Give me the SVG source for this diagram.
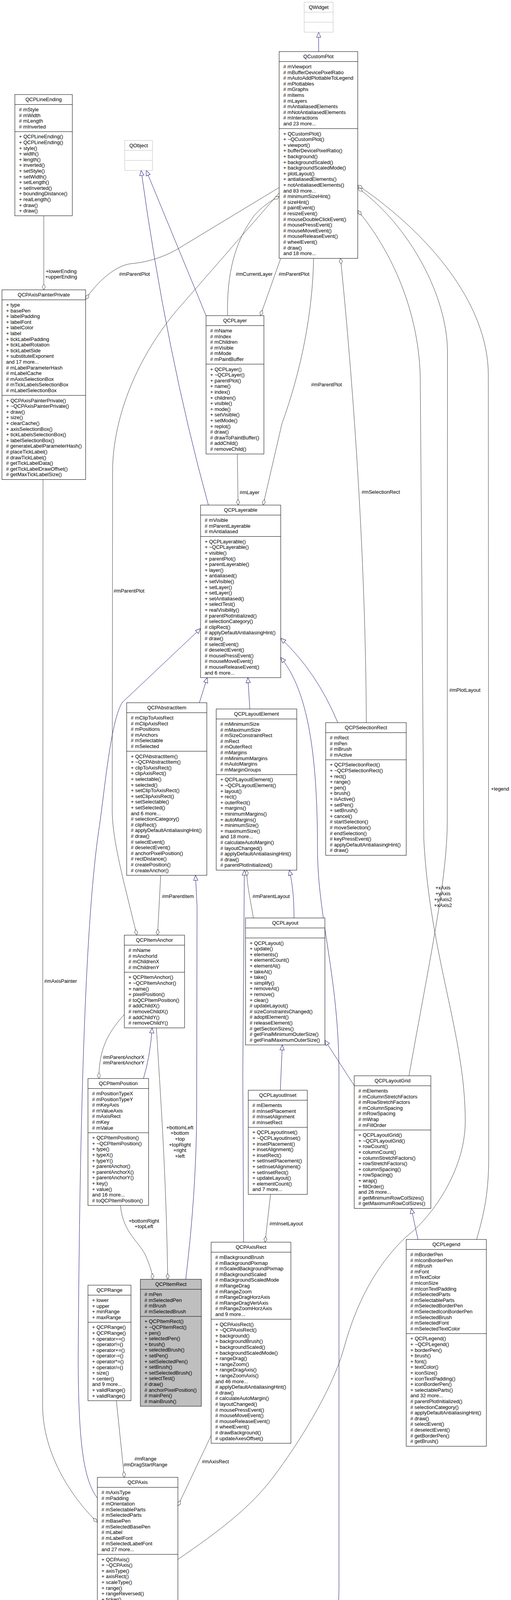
<svg xmlns="http://www.w3.org/2000/svg" width="1307" height="4811" viewBox="0 0 1307 4811">
<style>
text{font-family:"Liberation Sans",Arial,Helvetica,sans-serif;font-size:13px;fill:#000}
.c{text-anchor:middle}
.box{fill:#fff;stroke:#000;stroke-width:1}
.ext{fill:#fff;stroke:#bfbfbf;stroke-width:1}
.hl{fill:#bfbfbf;stroke:#000;stroke-width:1}
.sep{fill:none;stroke:#000;stroke-width:1}
.sepx{fill:none;stroke:#bfbfbf;stroke-width:1}
.inh{fill:none;stroke:#191970;stroke-width:1;marker-end:url(#tri)}
.use{fill:none;stroke:#404040;stroke-width:1;marker-end:url(#dia)}
</style>
<defs>
<marker id="tri" markerUnits="userSpaceOnUse" viewBox="-1 -1 15 13" refX="13" refY="5.5" markerWidth="15" markerHeight="13" orient="auto"><path d="M0,0 L13,5.5 L0,11 Z" fill="#fff" stroke="#191970"/></marker>
<marker id="dia" markerUnits="userSpaceOnUse" viewBox="-1 -1 17 10" refX="15" refY="4" markerWidth="17" markerHeight="10" orient="auto"><path d="M0,4 L7.5,0 L15,4 L7.5,8 Z" fill="#fff" stroke="#404040"/></marker>
</defs>
<rect width="1307" height="4811" fill="#fff"/>

<g id="connectors">
<path class="inh" d="M815,132 L815,82.4"/>
<path class="inh" d="M527,808 L374,436.3"/>
<path class="inh" d="M533,1293 Q425,900 361,436.3"/>
<path class="inh" d="M510,1799 L530,1734.8"/>
<path class="inh" d="M639,1815 L634,1734.8"/>
<path class="inh" d="M864,1850 Q810,1720 718,1634"/>
<path class="inh" d="M572,4537 C760,4430 867,4300 867,4063 L867,2750 C867,2500 812,2350 812,2170 C812,1900 780,1760 718,1683"/>
<path class="inh" d="M249,3835 C215,3790 200,3700 200,3470 C205,2700 225,2300 255,2110 C270,2000 285,1840 313,1798 L513,1609"/>
<path class="inh" d="M475,3275 C490,3150 503,3000 503,2833 L504,2320 L500,2240.8"/>
<path class="inh" d="M367,2761 Q385,2700 389,2631.4"/>
<path class="inh" d="M752,2350 C752,2300 748,2260 740,2227.6"/>
<path class="inh" d="M623,3180 L621,2750 L625,2227.6"/>
<path class="inh" d="M906,2779 L831,2663"/>
<path class="inh" d="M717,2791 L722,2675"/>
<path class="inh" d="M1069,3173 L1052,3093.6"/>

<path class="use" d="M112,552.4 L112,742"/>
<path class="use" d="M714,480 L450,640 C410,662 370,672 335,675 C295,680 250,720 219,766"/>
<path class="use" d="M714,494 L450,797 C340,930 290,1080 288,1200 L287,2073 C287,2150 315,2250 350,2394"/>
<path class="use" d="M582,808 C580,700 600,620 650,552 C670,530 690,515 714,503"/>
<path class="use" d="M718,661.4 L666,808"/>
<path class="use" d="M802,661.4 C800,800 770,950 721,1085 L673,1293"/>
<path class="use" d="M607,1162.2 L609,1293"/>
<path class="use" d="M937,1850 C935,1400 900,950 871,661.4"/>
<path class="use" d="M1219,3173 C1240,3100 1250,3050 1250,2960 L1249,960 C1249,780 1100,600 915,474"/>
<path class="use" d="M1046,2754 C1100,2450 1144,2250 1144,2100 L1144.5,900 C1144,760 1050,580 915,481"/>
<path class="use" d="M455,3992 C560,3920 640,3860 700,3780 C760,3700 850,3560 880,3450 C910,3340 960,3240 1040,3165 C1100,3120 1190,3000 1190,2870 C1190,2650 1100,2450 1084,2150 L1075,980 C1075,800 1000,640 915,539"/>
<path class="use" d="M110,1227.6 L109,3600 C110,3720 180,3830 249,3897"/>
<path class="use" d="M411,2240.8 L403,2394"/>
<path class="use" d="M318,2597 C280,2640 253,2680 253,2761"/>
<path class="use" d="M400,2631.4 C410,2800 425,3000 429,3275"/>
<path class="use" d="M308,3086 C315,3160 360,3180 375,3220 C385,3245 390,3260 390,3275"/>
<path class="use" d="M648,2350 C640,2300 632,2270 631,2227.6"/>
<path class="use" d="M692,3057.6 L678,3180"/>
<path class="use" d="M540,3675 L455,3855"/>
<path class="use" d="M297.6,3585.8 L318,3782"/>
<path class="use" d="M340,4355.2 C343,4400 355,4425 367,4442"/>
<path class="use" d="M447,4421 L436,4355.2"/>

<g class="c">
<text class="c" x="156.5" y="698.6">+lowerEnding</text>
<text class="c" x="156.5" y="712.6">+upperEnding</text>
<text class="c" x="344" y="705.6">#mParentPlot</text>
<text class="c" x="330" y="1516.6">#mParentPlot</text>
<text class="c" x="650" y="705.6">#mCurrentLayer</text>
<text class="c" x="752" y="705.6">#mParentPlot</text>
<text class="c" x="835" y="988.6">#mParentPlot</text>
<text class="c" x="638" y="1264.6">#mLayer</text>
<text class="c" x="974" y="1263.6">#mSelectionRect</text>
<text class="c" x="1279" y="2023.6">+legend</text>
<text class="c" x="1189" y="1770.6">#mPlotLayout</text>
<text class="c" x="1133" y="2276.6">+xAxis</text>
<text class="c" x="1133" y="2291.6">+yAxis</text>
<text class="c" x="1133" y="2306.6">+yAxis2</text>
<text class="c" x="1133" y="2321.6">+xAxis2</text>
<text class="c" x="155" y="2515.6">#mAxisPainter</text>
<text class="c" x="455" y="2298.6">#mParentItem</text>
<text class="c" x="316" y="2710.6">#mParentAnchorX</text>
<text class="c" x="316" y="2724.6">#mParentAnchorY</text>
<text class="c" x="460" y="2890.6">+bottomLeft</text>
<text class="c" x="460" y="2905.3">+bottom</text>
<text class="c" x="460" y="2920">+top</text>
<text class="c" x="460" y="2934.7">+topRight</text>
<text class="c" x="460" y="2949.4">+right</text>
<text class="c" x="460" y="2964.1">+left</text>
<text class="c" x="368" y="3129.6">+bottomRight</text>
<text class="c" x="368" y="3143.6">+topLeft</text>
<text class="c" x="693.5" y="2298.6">#mParentLayout</text>
<text class="c" x="732" y="3136.6">#mInsetLayout</text>
<text class="c" x="551" y="3745.6">#mAxisRect</text>
<text class="c" x="372" y="3738.6">#mRange</text>
<text class="c" x="372" y="3753.6">#mDragStartRange</text>
<text class="c" x="392" y="4391.6">#mParentAxis</text>
<text class="c" x="467" y="4391.6">#mGrid</text>
</g>
</g>

<g id="QWidget" transform="translate(778,5.6)">
<rect class="ext" width="74" height="76.8"/>
<path class="sepx" d="M0,25.6H74M0,51.2H74"/>
<text class="c" x="37" y="17.4">QWidget</text>
</g>

<g id="QObject" transform="translate(319,359.5)">
<rect class="ext" width="71" height="76.8"/>
<path class="sepx" d="M0,25.6H71M0,51.2H71"/>
<text class="c" x="35.5" y="17.4">QObject</text>
</g>

<g id="QCustomPlot" transform="translate(714,132)">
<rect class="box" width="201" height="529.4"/>
<path class="sep" d="M0,25.6H201M0,197.2H201"/>
<text class="c" x="100.5" y="17.4">QCustomPlot</text>
<text x="10.5" y="43"><tspan x="10.5" dy="0"># mViewport</tspan><tspan x="10.5" dy="14.6"># mBufferDevicePixelRatio</tspan><tspan x="10.5" dy="14.6"># mAutoAddPlottableToLegend</tspan><tspan x="10.5" dy="14.6"># mPlottables</tspan><tspan x="10.5" dy="14.6"># mGraphs</tspan><tspan x="10.5" dy="14.6"># mItems</tspan><tspan x="10.5" dy="14.6"># mLayers</tspan><tspan x="10.5" dy="14.6"># mAntialiasedElements</tspan><tspan x="10.5" dy="14.6"># mNotAntialiasedElements</tspan><tspan x="10.5" dy="14.6"># mInteractions</tspan><tspan x="10.5" dy="14.6">and 23 more...</tspan></text>
<text x="10.5" y="214.6"><tspan x="10.5" dy="0">+ QCustomPlot()</tspan><tspan x="10.5" dy="14.6">+ ~QCustomPlot()</tspan><tspan x="10.5" dy="14.6">+ viewport()</tspan><tspan x="10.5" dy="14.6">+ bufferDevicePixelRatio()</tspan><tspan x="10.5" dy="14.6">+ background()</tspan><tspan x="10.5" dy="14.6">+ backgroundScaled()</tspan><tspan x="10.5" dy="14.6">+ backgroundScaledMode()</tspan><tspan x="10.5" dy="14.6">+ plotLayout()</tspan><tspan x="10.5" dy="14.6">+ antialiasedElements()</tspan><tspan x="10.5" dy="14.6">+ notAntialiasedElements()</tspan><tspan x="10.5" dy="14.6">and 83 more...</tspan><tspan x="10.5" dy="14.6"># minimumSizeHint()</tspan><tspan x="10.5" dy="14.6"># sizeHint()</tspan><tspan x="10.5" dy="14.6"># paintEvent()</tspan><tspan x="10.5" dy="14.6"># resizeEvent()</tspan><tspan x="10.5" dy="14.6"># mouseDoubleClickEvent()</tspan><tspan x="10.5" dy="14.6"># mousePressEvent()</tspan><tspan x="10.5" dy="14.6"># mouseMoveEvent()</tspan><tspan x="10.5" dy="14.6"># mouseReleaseEvent()</tspan><tspan x="10.5" dy="14.6"># wheelEvent()</tspan><tspan x="10.5" dy="14.6"># draw()</tspan><tspan x="10.5" dy="14.6">and 18 more...</tspan></text>
</g>

<g id="QCPLineEnding" transform="translate(38,242)">
<rect class="box" width="147" height="310.4"/>
<path class="sep" d="M0,25.6H147M0,95H147"/>
<text class="c" x="73.5" y="17.4">QCPLineEnding</text>
<text x="10.5" y="43"><tspan x="10.5" dy="0"># mStyle</tspan><tspan x="10.5" dy="14.6"># mWidth</tspan><tspan x="10.5" dy="14.6"># mLength</tspan><tspan x="10.5" dy="14.6"># mInverted</tspan></text>
<text x="10.5" y="112.4"><tspan x="10.5" dy="0">+ QCPLineEnding()</tspan><tspan x="10.5" dy="14.6">+ QCPLineEnding()</tspan><tspan x="10.5" dy="14.6">+ style()</tspan><tspan x="10.5" dy="14.6">+ width()</tspan><tspan x="10.5" dy="14.6">+ length()</tspan><tspan x="10.5" dy="14.6">+ inverted()</tspan><tspan x="10.5" dy="14.6">+ setStyle()</tspan><tspan x="10.5" dy="14.6">+ setWidth()</tspan><tspan x="10.5" dy="14.6">+ setLength()</tspan><tspan x="10.5" dy="14.6">+ setInverted()</tspan><tspan x="10.5" dy="14.6">+ boundingDistance()</tspan><tspan x="10.5" dy="14.6">+ realLength()</tspan><tspan x="10.5" dy="14.6">+ draw()</tspan><tspan x="10.5" dy="14.6">+ draw()</tspan></text>
</g>

<g id="QCPAxisPainterPrivate" transform="translate(5,742)">
<rect class="box" width="214" height="485.6"/>
<path class="sep" d="M0,25.6H214M0,270.2H214"/>
<text class="c" x="107" y="17.4">QCPAxisPainterPrivate</text>
<text x="10.5" y="43"><tspan x="10.5" dy="0">+ type</tspan><tspan x="10.5" dy="14.6">+ basePen</tspan><tspan x="10.5" dy="14.6">+ labelPadding</tspan><tspan x="10.5" dy="14.6">+ labelFont</tspan><tspan x="10.5" dy="14.6">+ labelColor</tspan><tspan x="10.5" dy="14.6">+ label</tspan><tspan x="10.5" dy="14.6">+ tickLabelPadding</tspan><tspan x="10.5" dy="14.6">+ tickLabelRotation</tspan><tspan x="10.5" dy="14.6">+ tickLabelSide</tspan><tspan x="10.5" dy="14.6">+ substituteExponent</tspan><tspan x="10.5" dy="14.6">and 17 more...</tspan><tspan x="10.5" dy="14.6"># mLabelParameterHash</tspan><tspan x="10.5" dy="14.6"># mLabelCache</tspan><tspan x="10.5" dy="14.6"># mAxisSelectionBox</tspan><tspan x="10.5" dy="14.6"># mTickLabelsSelectionBox</tspan><tspan x="10.5" dy="14.6"># mLabelSelectionBox</tspan></text>
<text x="10.5" y="287.6"><tspan x="10.5" dy="0">+ QCPAxisPainterPrivate()</tspan><tspan x="10.5" dy="14.6">+ ~QCPAxisPainterPrivate()</tspan><tspan x="10.5" dy="14.6">+ draw()</tspan><tspan x="10.5" dy="14.6">+ size()</tspan><tspan x="10.5" dy="14.6">+ clearCache()</tspan><tspan x="10.5" dy="14.6">+ axisSelectionBox()</tspan><tspan x="10.5" dy="14.6">+ tickLabelsSelectionBox()</tspan><tspan x="10.5" dy="14.6">+ labelSelectionBox()</tspan><tspan x="10.5" dy="14.6"># generateLabelParameterHash()</tspan><tspan x="10.5" dy="14.6"># placeTickLabel()</tspan><tspan x="10.5" dy="14.6"># drawTickLabel()</tspan><tspan x="10.5" dy="14.6"># getTickLabelData()</tspan><tspan x="10.5" dy="14.6"># getTickLabelDrawOffset()</tspan><tspan x="10.5" dy="14.6"># getMaxTickLabelSize()</tspan></text>
</g>

<g id="QCPLayer" transform="translate(527,808)">
<rect class="box" width="148" height="354.2"/>
<path class="sep" d="M0,25.6H148M0,124.2H148"/>
<text class="c" x="74" y="17.4">QCPLayer</text>
<text x="10.5" y="43"><tspan x="10.5" dy="0"># mName</tspan><tspan x="10.5" dy="14.6"># mIndex</tspan><tspan x="10.5" dy="14.6"># mChildren</tspan><tspan x="10.5" dy="14.6"># mVisible</tspan><tspan x="10.5" dy="14.6"># mMode</tspan><tspan x="10.5" dy="14.6"># mPaintBuffer</tspan></text>
<text x="10.5" y="141.6"><tspan x="10.5" dy="0">+ QCPLayer()</tspan><tspan x="10.5" dy="14.6">+ ~QCPLayer()</tspan><tspan x="10.5" dy="14.6">+ parentPlot()</tspan><tspan x="10.5" dy="14.6">+ name()</tspan><tspan x="10.5" dy="14.6">+ index()</tspan><tspan x="10.5" dy="14.6">+ children()</tspan><tspan x="10.5" dy="14.6">+ visible()</tspan><tspan x="10.5" dy="14.6">+ mode()</tspan><tspan x="10.5" dy="14.6">+ setVisible()</tspan><tspan x="10.5" dy="14.6">+ setMode()</tspan><tspan x="10.5" dy="14.6">+ replot()</tspan><tspan x="10.5" dy="14.6"># draw()</tspan><tspan x="10.5" dy="14.6"># drawToPaintBuffer()</tspan><tspan x="10.5" dy="14.6"># addChild()</tspan><tspan x="10.5" dy="14.6"># removeChild()</tspan></text>
</g>

<g id="QCPLayerable" transform="translate(513,1293)">
<rect class="box" width="205" height="441.8"/>
<path class="sep" d="M0,25.6H205M0,80.4H205"/>
<text class="c" x="102.5" y="17.4">QCPLayerable</text>
<text x="10.5" y="43"><tspan x="10.5" dy="0"># mVisible</tspan><tspan x="10.5" dy="14.6"># mParentLayerable</tspan><tspan x="10.5" dy="14.6"># mAntialiased</tspan></text>
<text x="10.5" y="97.8"><tspan x="10.5" dy="0">+ QCPLayerable()</tspan><tspan x="10.5" dy="14.6">+ ~QCPLayerable()</tspan><tspan x="10.5" dy="14.6">+ visible()</tspan><tspan x="10.5" dy="14.6">+ parentPlot()</tspan><tspan x="10.5" dy="14.6">+ parentLayerable()</tspan><tspan x="10.5" dy="14.6">+ layer()</tspan><tspan x="10.5" dy="14.6">+ antialiased()</tspan><tspan x="10.5" dy="14.6">+ setVisible()</tspan><tspan x="10.5" dy="14.6">+ setLayer()</tspan><tspan x="10.5" dy="14.6">+ setLayer()</tspan><tspan x="10.5" dy="14.6">+ setAntialiased()</tspan><tspan x="10.5" dy="14.6">+ selectTest()</tspan><tspan x="10.5" dy="14.6">+ realVisibility()</tspan><tspan x="10.5" dy="14.6"># parentPlotInitialized()</tspan><tspan x="10.5" dy="14.6"># selectionCategory()</tspan><tspan x="10.5" dy="14.6"># clipRect()</tspan><tspan x="10.5" dy="14.6"># applyDefaultAntialiasingHint()</tspan><tspan x="10.5" dy="14.6"># draw()</tspan><tspan x="10.5" dy="14.6"># selectEvent()</tspan><tspan x="10.5" dy="14.6"># deselectEvent()</tspan><tspan x="10.5" dy="14.6"># mousePressEvent()</tspan><tspan x="10.5" dy="14.6"># mouseMoveEvent()</tspan><tspan x="10.5" dy="14.6"># mouseReleaseEvent()</tspan><tspan x="10.5" dy="14.6">and 6 more...</tspan></text>
</g>

<g id="QCPAbstractItem" transform="translate(324,1799)">
<rect class="box" width="205" height="441.8"/>
<path class="sep" d="M0,25.6H205M0,124.2H205"/>
<text class="c" x="102.5" y="17.4">QCPAbstractItem</text>
<text x="10.5" y="43"><tspan x="10.5" dy="0"># mClipToAxisRect</tspan><tspan x="10.5" dy="14.6"># mClipAxisRect</tspan><tspan x="10.5" dy="14.6"># mPositions</tspan><tspan x="10.5" dy="14.6"># mAnchors</tspan><tspan x="10.5" dy="14.6"># mSelectable</tspan><tspan x="10.5" dy="14.6"># mSelected</tspan></text>
<text x="10.5" y="141.6"><tspan x="10.5" dy="0">+ QCPAbstractItem()</tspan><tspan x="10.5" dy="14.6">+ ~QCPAbstractItem()</tspan><tspan x="10.5" dy="14.6">+ clipToAxisRect()</tspan><tspan x="10.5" dy="14.6">+ clipAxisRect()</tspan><tspan x="10.5" dy="14.6">+ selectable()</tspan><tspan x="10.5" dy="14.6">+ selected()</tspan><tspan x="10.5" dy="14.6">+ setClipToAxisRect()</tspan><tspan x="10.5" dy="14.6">+ setClipAxisRect()</tspan><tspan x="10.5" dy="14.6">+ setSelectable()</tspan><tspan x="10.5" dy="14.6">+ setSelected()</tspan><tspan x="10.5" dy="14.6">and 6 more...</tspan><tspan x="10.5" dy="14.6"># selectionCategory()</tspan><tspan x="10.5" dy="14.6"># clipRect()</tspan><tspan x="10.5" dy="14.6"># applyDefaultAntialiasingHint()</tspan><tspan x="10.5" dy="14.6"># draw()</tspan><tspan x="10.5" dy="14.6"># selectEvent()</tspan><tspan x="10.5" dy="14.6"># deselectEvent()</tspan><tspan x="10.5" dy="14.6"># anchorPixelPosition()</tspan><tspan x="10.5" dy="14.6"># rectDistance()</tspan><tspan x="10.5" dy="14.6"># createPosition()</tspan><tspan x="10.5" dy="14.6"># createAnchor()</tspan></text>
</g>

<g id="QCPLayoutElement" transform="translate(553,1815)">
<rect class="box" width="206" height="412.6"/>
<path class="sep" d="M0,25.6H206M0,168H206"/>
<text class="c" x="103" y="17.4">QCPLayoutElement</text>
<text x="10.5" y="43"><tspan x="10.5" dy="0"># mMinimumSize</tspan><tspan x="10.5" dy="14.6"># mMaximumSize</tspan><tspan x="10.5" dy="14.6"># mSizeConstraintRect</tspan><tspan x="10.5" dy="14.6"># mRect</tspan><tspan x="10.5" dy="14.6"># mOuterRect</tspan><tspan x="10.5" dy="14.6"># mMargins</tspan><tspan x="10.5" dy="14.6"># mMinimumMargins</tspan><tspan x="10.5" dy="14.6"># mAutoMargins</tspan><tspan x="10.5" dy="14.6"># mMarginGroups</tspan></text>
<text x="10.5" y="185.4"><tspan x="10.5" dy="0">+ QCPLayoutElement()</tspan><tspan x="10.5" dy="14.6">+ ~QCPLayoutElement()</tspan><tspan x="10.5" dy="14.6">+ layout()</tspan><tspan x="10.5" dy="14.6">+ rect()</tspan><tspan x="10.5" dy="14.6">+ outerRect()</tspan><tspan x="10.5" dy="14.6">+ margins()</tspan><tspan x="10.5" dy="14.6">+ minimumMargins()</tspan><tspan x="10.5" dy="14.6">+ autoMargins()</tspan><tspan x="10.5" dy="14.6">+ minimumSize()</tspan><tspan x="10.5" dy="14.6">+ maximumSize()</tspan><tspan x="10.5" dy="14.6">and 18 more...</tspan><tspan x="10.5" dy="14.6"># calculateAutoMargin()</tspan><tspan x="10.5" dy="14.6"># layoutChanged()</tspan><tspan x="10.5" dy="14.6"># applyDefaultAntialiasingHint()</tspan><tspan x="10.5" dy="14.6"># draw()</tspan><tspan x="10.5" dy="14.6"># parentPlotInitialized()</tspan></text>
</g>

<g id="QCPSelectionRect" transform="translate(833,1850)">
<rect class="box" width="206" height="339.6"/>
<path class="sep" d="M0,25.6H206M0,95H206"/>
<text class="c" x="103" y="17.4">QCPSelectionRect</text>
<text x="10.5" y="43"><tspan x="10.5" dy="0"># mRect</tspan><tspan x="10.5" dy="14.6"># mPen</tspan><tspan x="10.5" dy="14.6"># mBrush</tspan><tspan x="10.5" dy="14.6"># mActive</tspan></text>
<text x="10.5" y="112.4"><tspan x="10.5" dy="0">+ QCPSelectionRect()</tspan><tspan x="10.5" dy="14.6">+ ~QCPSelectionRect()</tspan><tspan x="10.5" dy="14.6">+ rect()</tspan><tspan x="10.5" dy="14.6">+ range()</tspan><tspan x="10.5" dy="14.6">+ pen()</tspan><tspan x="10.5" dy="14.6">+ brush()</tspan><tspan x="10.5" dy="14.6">+ isActive()</tspan><tspan x="10.5" dy="14.6">+ setPen()</tspan><tspan x="10.5" dy="14.6">+ setBrush()</tspan><tspan x="10.5" dy="14.6">+ cancel()</tspan><tspan x="10.5" dy="14.6"># startSelection()</tspan><tspan x="10.5" dy="14.6"># moveSelection()</tspan><tspan x="10.5" dy="14.6"># endSelection()</tspan><tspan x="10.5" dy="14.6"># keyPressEvent()</tspan><tspan x="10.5" dy="14.6"># applyDefaultAntialiasingHint()</tspan><tspan x="10.5" dy="14.6"># draw()</tspan></text>
</g>

<g id="QCPItemAnchor" transform="translate(318,2394)">
<rect class="box" width="154" height="237.4"/>
<path class="sep" d="M0,25.6H154M0,95H154"/>
<text class="c" x="77" y="17.4">QCPItemAnchor</text>
<text x="10.5" y="43"><tspan x="10.5" dy="0"># mName</tspan><tspan x="10.5" dy="14.6"># mAnchorId</tspan><tspan x="10.5" dy="14.6"># mChildrenX</tspan><tspan x="10.5" dy="14.6"># mChildrenY</tspan></text>
<text x="10.5" y="112.4"><tspan x="10.5" dy="0">+ QCPItemAnchor()</tspan><tspan x="10.5" dy="14.6">+ ~QCPItemAnchor()</tspan><tspan x="10.5" dy="14.6">+ name()</tspan><tspan x="10.5" dy="14.6">+ pixelPosition()</tspan><tspan x="10.5" dy="14.6"># toQCPItemPosition()</tspan><tspan x="10.5" dy="14.6"># addChildX()</tspan><tspan x="10.5" dy="14.6"># removeChildX()</tspan><tspan x="10.5" dy="14.6"># addChildY()</tspan><tspan x="10.5" dy="14.6"># removeChildY()</tspan></text>
</g>

<g id="QCPLayout" transform="translate(628,2350)">
<rect class="box" width="203" height="325"/>
<path class="sep" d="M0,25.6H203M0,51.2H203"/>
<text class="c" x="101.5" y="17.4">QCPLayout</text>
<text x="10.5" y="68.6"><tspan x="10.5" dy="0">+ QCPLayout()</tspan><tspan x="10.5" dy="14.6">+ update()</tspan><tspan x="10.5" dy="14.6">+ elements()</tspan><tspan x="10.5" dy="14.6">+ elementCount()</tspan><tspan x="10.5" dy="14.6">+ elementAt()</tspan><tspan x="10.5" dy="14.6">+ takeAt()</tspan><tspan x="10.5" dy="14.6">+ take()</tspan><tspan x="10.5" dy="14.6">+ simplify()</tspan><tspan x="10.5" dy="14.6">+ removeAt()</tspan><tspan x="10.5" dy="14.6">+ remove()</tspan><tspan x="10.5" dy="14.6">+ clear()</tspan><tspan x="10.5" dy="14.6"># updateLayout()</tspan><tspan x="10.5" dy="14.6"># sizeConstraintsChanged()</tspan><tspan x="10.5" dy="14.6"># adoptElement()</tspan><tspan x="10.5" dy="14.6"># releaseElement()</tspan><tspan x="10.5" dy="14.6"># getSectionSizes()</tspan><tspan x="10.5" dy="14.6"># getFinalMinimumOuterSize()</tspan><tspan x="10.5" dy="14.6"># getFinalMaximumOuterSize()</tspan></text>
</g>

<g id="QCPLayoutGrid" transform="translate(906,2754)">
<rect class="box" width="196" height="339.6"/>
<path class="sep" d="M0,25.6H196M0,138.8H196"/>
<text class="c" x="98" y="17.4">QCPLayoutGrid</text>
<text x="10.5" y="43"><tspan x="10.5" dy="0"># mElements</tspan><tspan x="10.5" dy="14.6"># mColumnStretchFactors</tspan><tspan x="10.5" dy="14.6"># mRowStretchFactors</tspan><tspan x="10.5" dy="14.6"># mColumnSpacing</tspan><tspan x="10.5" dy="14.6"># mRowSpacing</tspan><tspan x="10.5" dy="14.6"># mWrap</tspan><tspan x="10.5" dy="14.6"># mFillOrder</tspan></text>
<text x="10.5" y="156.2"><tspan x="10.5" dy="0">+ QCPLayoutGrid()</tspan><tspan x="10.5" dy="14.6">+ ~QCPLayoutGrid()</tspan><tspan x="10.5" dy="14.6">+ rowCount()</tspan><tspan x="10.5" dy="14.6">+ columnCount()</tspan><tspan x="10.5" dy="14.6">+ columnStretchFactors()</tspan><tspan x="10.5" dy="14.6">+ rowStretchFactors()</tspan><tspan x="10.5" dy="14.6">+ columnSpacing()</tspan><tspan x="10.5" dy="14.6">+ rowSpacing()</tspan><tspan x="10.5" dy="14.6">+ wrap()</tspan><tspan x="10.5" dy="14.6">+ fillOrder()</tspan><tspan x="10.5" dy="14.6">and 26 more...</tspan><tspan x="10.5" dy="14.6"># getMinimumRowColSizes()</tspan><tspan x="10.5" dy="14.6"># getMaximumRowColSizes()</tspan></text>
</g>

<g id="QCPItemPosition" transform="translate(225,2761)">
<rect class="box" width="155" height="325"/>
<path class="sep" d="M0,25.6H155M0,138.8H155"/>
<text class="c" x="77.5" y="17.4">QCPItemPosition</text>
<text x="10.5" y="43"><tspan x="10.5" dy="0"># mPositionTypeX</tspan><tspan x="10.5" dy="14.6"># mPositionTypeY</tspan><tspan x="10.5" dy="14.6"># mKeyAxis</tspan><tspan x="10.5" dy="14.6"># mValueAxis</tspan><tspan x="10.5" dy="14.6"># mAxisRect</tspan><tspan x="10.5" dy="14.6"># mKey</tspan><tspan x="10.5" dy="14.6"># mValue</tspan></text>
<text x="10.5" y="156.2"><tspan x="10.5" dy="0">+ QCPItemPosition()</tspan><tspan x="10.5" dy="14.6">+ ~QCPItemPosition()</tspan><tspan x="10.5" dy="14.6">+ type()</tspan><tspan x="10.5" dy="14.6">+ typeX()</tspan><tspan x="10.5" dy="14.6">+ typeY()</tspan><tspan x="10.5" dy="14.6">+ parentAnchor()</tspan><tspan x="10.5" dy="14.6">+ parentAnchorX()</tspan><tspan x="10.5" dy="14.6">+ parentAnchorY()</tspan><tspan x="10.5" dy="14.6">+ key()</tspan><tspan x="10.5" dy="14.6">+ value()</tspan><tspan x="10.5" dy="14.6">and 16 more...</tspan><tspan x="10.5" dy="14.6"># toQCPItemPosition()</tspan></text>
</g>

<g id="QCPLayoutInset" transform="translate(635,2791)">
<rect class="box" width="151" height="266.6"/>
<path class="sep" d="M0,25.6H151M0,95H151"/>
<text class="c" x="75.5" y="17.4">QCPLayoutInset</text>
<text x="10.5" y="43"><tspan x="10.5" dy="0"># mElements</tspan><tspan x="10.5" dy="14.6"># mInsetPlacement</tspan><tspan x="10.5" dy="14.6"># mInsetAlignment</tspan><tspan x="10.5" dy="14.6"># mInsetRect</tspan></text>
<text x="10.5" y="112.4"><tspan x="10.5" dy="0">+ QCPLayoutInset()</tspan><tspan x="10.5" dy="14.6">+ ~QCPLayoutInset()</tspan><tspan x="10.5" dy="14.6">+ insetPlacement()</tspan><tspan x="10.5" dy="14.6">+ insetAlignment()</tspan><tspan x="10.5" dy="14.6">+ insetRect()</tspan><tspan x="10.5" dy="14.6">+ setInsetPlacement()</tspan><tspan x="10.5" dy="14.6">+ setInsetAlignment()</tspan><tspan x="10.5" dy="14.6">+ setInsetRect()</tspan><tspan x="10.5" dy="14.6">+ updateLayout()</tspan><tspan x="10.5" dy="14.6">+ elementCount()</tspan><tspan x="10.5" dy="14.6">and 7 more...</tspan></text>
</g>

<g id="QCPItemRect" transform="translate(359,3275)">
<rect class="hl" width="156" height="325"/>
<path class="sep" d="M0,25.6H156M0,95H156"/>
<text class="c" x="78" y="17.4">QCPItemRect</text>
<text x="10.5" y="43"><tspan x="10.5" dy="0"># mPen</tspan><tspan x="10.5" dy="14.6"># mSelectedPen</tspan><tspan x="10.5" dy="14.6"># mBrush</tspan><tspan x="10.5" dy="14.6"># mSelectedBrush</tspan></text>
<text x="10.5" y="112.4"><tspan x="10.5" dy="0">+ QCPItemRect()</tspan><tspan x="10.5" dy="14.6">+ ~QCPItemRect()</tspan><tspan x="10.5" dy="14.6">+ pen()</tspan><tspan x="10.5" dy="14.6">+ selectedPen()</tspan><tspan x="10.5" dy="14.6">+ brush()</tspan><tspan x="10.5" dy="14.6">+ selectedBrush()</tspan><tspan x="10.5" dy="14.6">+ setPen()</tspan><tspan x="10.5" dy="14.6">+ setSelectedPen()</tspan><tspan x="10.5" dy="14.6">+ setBrush()</tspan><tspan x="10.5" dy="14.6">+ setSelectedBrush()</tspan><tspan x="10.5" dy="14.6">+ selectTest()</tspan><tspan x="10.5" dy="14.6"># draw()</tspan><tspan x="10.5" dy="14.6"># anchorPixelPosition()</tspan><tspan x="10.5" dy="14.6"># mainPen()</tspan><tspan x="10.5" dy="14.6"># mainBrush()</tspan></text>
</g>

<g id="QCPRange" transform="translate(225,3290)">
<rect class="box" width="110" height="295.8"/>
<path class="sep" d="M0,25.6H110M0,95H110"/>
<text class="c" x="55" y="17.4">QCPRange</text>
<text x="10.5" y="43"><tspan x="10.5" dy="0">+ lower</tspan><tspan x="10.5" dy="14.6">+ upper</tspan><tspan x="10.5" dy="14.6">+ minRange</tspan><tspan x="10.5" dy="14.6">+ maxRange</tspan></text>
<text x="10.5" y="112.4"><tspan x="10.5" dy="0">+ QCPRange()</tspan><tspan x="10.5" dy="14.6">+ QCPRange()</tspan><tspan x="10.5" dy="14.6">+ operator==()</tspan><tspan x="10.5" dy="14.6">+ operator!=()</tspan><tspan x="10.5" dy="14.6">+ operator+=()</tspan><tspan x="10.5" dy="14.6">+ operator-=()</tspan><tspan x="10.5" dy="14.6">+ operator*=()</tspan><tspan x="10.5" dy="14.6">+ operator/=()</tspan><tspan x="10.5" dy="14.6">+ size()</tspan><tspan x="10.5" dy="14.6">+ center()</tspan><tspan x="10.5" dy="14.6">and 9 more...</tspan><tspan x="10.5" dy="14.6">+ validRange()</tspan><tspan x="10.5" dy="14.6">+ validRange()</tspan></text>
</g>

<g id="QCPAxisRect" transform="translate(540,3180)">
<rect class="box" width="204" height="514.8"/>
<path class="sep" d="M0,25.6H204M0,197.2H204"/>
<text class="c" x="102" y="17.4">QCPAxisRect</text>
<text x="10.5" y="43"><tspan x="10.5" dy="0"># mBackgroundBrush</tspan><tspan x="10.5" dy="14.6"># mBackgroundPixmap</tspan><tspan x="10.5" dy="14.6"># mScaledBackgroundPixmap</tspan><tspan x="10.5" dy="14.6"># mBackgroundScaled</tspan><tspan x="10.5" dy="14.6"># mBackgroundScaledMode</tspan><tspan x="10.5" dy="14.6"># mRangeDrag</tspan><tspan x="10.5" dy="14.6"># mRangeZoom</tspan><tspan x="10.5" dy="14.6"># mRangeDragHorzAxis</tspan><tspan x="10.5" dy="14.6"># mRangeDragVertAxis</tspan><tspan x="10.5" dy="14.6"># mRangeZoomHorzAxis</tspan><tspan x="10.5" dy="14.6">and 9 more...</tspan></text>
<text x="10.5" y="214.6"><tspan x="10.5" dy="0">+ QCPAxisRect()</tspan><tspan x="10.5" dy="14.6">+ ~QCPAxisRect()</tspan><tspan x="10.5" dy="14.6">+ background()</tspan><tspan x="10.5" dy="14.6">+ backgroundBrush()</tspan><tspan x="10.5" dy="14.6">+ backgroundScaled()</tspan><tspan x="10.5" dy="14.6">+ backgroundScaledMode()</tspan><tspan x="10.5" dy="14.6">+ rangeDrag()</tspan><tspan x="10.5" dy="14.6">+ rangeZoom()</tspan><tspan x="10.5" dy="14.6">+ rangeDragAxis()</tspan><tspan x="10.5" dy="14.6">+ rangeZoomAxis()</tspan><tspan x="10.5" dy="14.6">and 46 more...</tspan><tspan x="10.5" dy="14.6"># applyDefaultAntialiasingHint()</tspan><tspan x="10.5" dy="14.6"># draw()</tspan><tspan x="10.5" dy="14.6"># calculateAutoMargin()</tspan><tspan x="10.5" dy="14.6"># layoutChanged()</tspan><tspan x="10.5" dy="14.6"># mousePressEvent()</tspan><tspan x="10.5" dy="14.6"># mouseMoveEvent()</tspan><tspan x="10.5" dy="14.6"># mouseReleaseEvent()</tspan><tspan x="10.5" dy="14.6"># wheelEvent()</tspan><tspan x="10.5" dy="14.6"># drawBackground()</tspan><tspan x="10.5" dy="14.6"># updateAxesOffset()</tspan></text>
</g>

<g id="QCPLegend" transform="translate(1039,3173)">
<rect class="box" width="205" height="529.4"/>
<path class="sep" d="M0,25.6H205M0,241H205"/>
<text class="c" x="102.5" y="17.4">QCPLegend</text>
<text x="10.5" y="43"><tspan x="10.5" dy="0"># mBorderPen</tspan><tspan x="10.5" dy="14.6"># mIconBorderPen</tspan><tspan x="10.5" dy="14.6"># mBrush</tspan><tspan x="10.5" dy="14.6"># mFont</tspan><tspan x="10.5" dy="14.6"># mTextColor</tspan><tspan x="10.5" dy="14.6"># mIconSize</tspan><tspan x="10.5" dy="14.6"># mIconTextPadding</tspan><tspan x="10.5" dy="14.6"># mSelectedParts</tspan><tspan x="10.5" dy="14.6"># mSelectableParts</tspan><tspan x="10.5" dy="14.6"># mSelectedBorderPen</tspan><tspan x="10.5" dy="14.6"># mSelectedIconBorderPen</tspan><tspan x="10.5" dy="14.6"># mSelectedBrush</tspan><tspan x="10.5" dy="14.6"># mSelectedFont</tspan><tspan x="10.5" dy="14.6"># mSelectedTextColor</tspan></text>
<text x="10.5" y="258.4"><tspan x="10.5" dy="0">+ QCPLegend()</tspan><tspan x="10.5" dy="14.6">+ ~QCPLegend()</tspan><tspan x="10.5" dy="14.6">+ borderPen()</tspan><tspan x="10.5" dy="14.6">+ brush()</tspan><tspan x="10.5" dy="14.6">+ font()</tspan><tspan x="10.5" dy="14.6">+ textColor()</tspan><tspan x="10.5" dy="14.6">+ iconSize()</tspan><tspan x="10.5" dy="14.6">+ iconTextPadding()</tspan><tspan x="10.5" dy="14.6">+ iconBorderPen()</tspan><tspan x="10.5" dy="14.6">+ selectableParts()</tspan><tspan x="10.5" dy="14.6">and 32 more...</tspan><tspan x="10.5" dy="14.6"># parentPlotInitialized()</tspan><tspan x="10.5" dy="14.6"># selectionCategory()</tspan><tspan x="10.5" dy="14.6"># applyDefaultAntialiasingHint()</tspan><tspan x="10.5" dy="14.6"># draw()</tspan><tspan x="10.5" dy="14.6"># selectEvent()</tspan><tspan x="10.5" dy="14.6"># deselectEvent()</tspan><tspan x="10.5" dy="14.6"># getBorderPen()</tspan><tspan x="10.5" dy="14.6"># getBrush()</tspan></text>
</g>

<g id="QCPAxis" transform="translate(249,3782)">
<rect class="box" width="206" height="573.2"/>
<path class="sep" d="M0,25.6H206M0,197.2H206"/>
<text class="c" x="103" y="17.4">QCPAxis</text>
<text x="10.5" y="43"><tspan x="10.5" dy="0"># mAxisType</tspan><tspan x="10.5" dy="14.6"># mPadding</tspan><tspan x="10.5" dy="14.6"># mOrientation</tspan><tspan x="10.5" dy="14.6"># mSelectableParts</tspan><tspan x="10.5" dy="14.6"># mSelectedParts</tspan><tspan x="10.5" dy="14.6"># mBasePen</tspan><tspan x="10.5" dy="14.6"># mSelectedBasePen</tspan><tspan x="10.5" dy="14.6"># mLabel</tspan><tspan x="10.5" dy="14.6"># mLabelFont</tspan><tspan x="10.5" dy="14.6"># mSelectedLabelFont</tspan><tspan x="10.5" dy="14.6">and 27 more...</tspan></text>
<text x="10.5" y="214.6"><tspan x="10.5" dy="0">+ QCPAxis()</tspan><tspan x="10.5" dy="14.6">+ ~QCPAxis()</tspan><tspan x="10.5" dy="14.6">+ axisType()</tspan><tspan x="10.5" dy="14.6">+ axisRect()</tspan><tspan x="10.5" dy="14.6">+ scaleType()</tspan><tspan x="10.5" dy="14.6">+ range()</tspan><tspan x="10.5" dy="14.6">+ rangeReversed()</tspan><tspan x="10.5" dy="14.6">+ ticker()</tspan><tspan x="10.5" dy="14.6">+ ticks()</tspan><tspan x="10.5" dy="14.6">+ tickLabels()</tspan><tspan x="10.5" dy="14.6">and 93 more...</tspan><tspan x="10.5" dy="14.6">+ marginSideToAxisType()</tspan><tspan x="10.5" dy="14.6">+ orientation()</tspan><tspan x="10.5" dy="14.6">+ opposite()</tspan><tspan x="10.5" dy="14.6"># calculateMargin()</tspan><tspan x="10.5" dy="14.6"># applyDefaultAntialiasingHint()</tspan><tspan x="10.5" dy="14.6"># draw()</tspan><tspan x="10.5" dy="14.6"># selectionCategory()</tspan><tspan x="10.5" dy="14.6"># selectEvent()</tspan><tspan x="10.5" dy="14.6"># deselectEvent()</tspan><tspan x="10.5" dy="14.6"># mousePressEvent()</tspan><tspan x="10.5" dy="14.6"># mouseMoveEvent()</tspan><tspan x="10.5" dy="14.6"># mouseReleaseEvent()</tspan><tspan x="10.5" dy="14.6"># wheelEvent()</tspan><tspan x="10.5" dy="14.6">and 8 more...</tspan></text>
</g>

<g id="QCPGrid" transform="translate(367,4421)">
<rect class="box" width="205" height="383.4"/>
<path class="sep" d="M0,25.6H205M0,124.2H205"/>
<text class="c" x="102.5" y="17.4">QCPGrid</text>
<text x="10.5" y="43"><tspan x="10.5" dy="0"># mSubGridVisible</tspan><tspan x="10.5" dy="14.6"># mAntialiasedSubGrid</tspan><tspan x="10.5" dy="14.6"># mAntialiasedZeroLine</tspan><tspan x="10.5" dy="14.6"># mPen</tspan><tspan x="10.5" dy="14.6"># mSubGridPen</tspan><tspan x="10.5" dy="14.6"># mZeroLinePen</tspan></text>
<text x="10.5" y="141.6"><tspan x="10.5" dy="0">+ QCPGrid()</tspan><tspan x="10.5" dy="14.6">+ subGridVisible()</tspan><tspan x="10.5" dy="14.6">+ antialiasedSubGrid()</tspan><tspan x="10.5" dy="14.6">+ antialiasedZeroLine()</tspan><tspan x="10.5" dy="14.6">+ pen()</tspan><tspan x="10.5" dy="14.6">+ subGridPen()</tspan><tspan x="10.5" dy="14.6">+ zeroLinePen()</tspan><tspan x="10.5" dy="14.6">+ setSubGridVisible()</tspan><tspan x="10.5" dy="14.6">+ setAntialiasedSubGrid()</tspan><tspan x="10.5" dy="14.6">+ setAntialiasedZeroLine()</tspan><tspan x="10.5" dy="14.6">+ setPen()</tspan><tspan x="10.5" dy="14.6">+ setSubGridPen()</tspan><tspan x="10.5" dy="14.6">+ setZeroLinePen()</tspan><tspan x="10.5" dy="14.6"># applyDefaultAntialiasingHint()</tspan><tspan x="10.5" dy="14.6"># draw()</tspan><tspan x="10.5" dy="14.6"># drawGridLines()</tspan><tspan x="10.5" dy="14.6"># drawSubGridLines()</tspan></text>
</g>
</svg>
